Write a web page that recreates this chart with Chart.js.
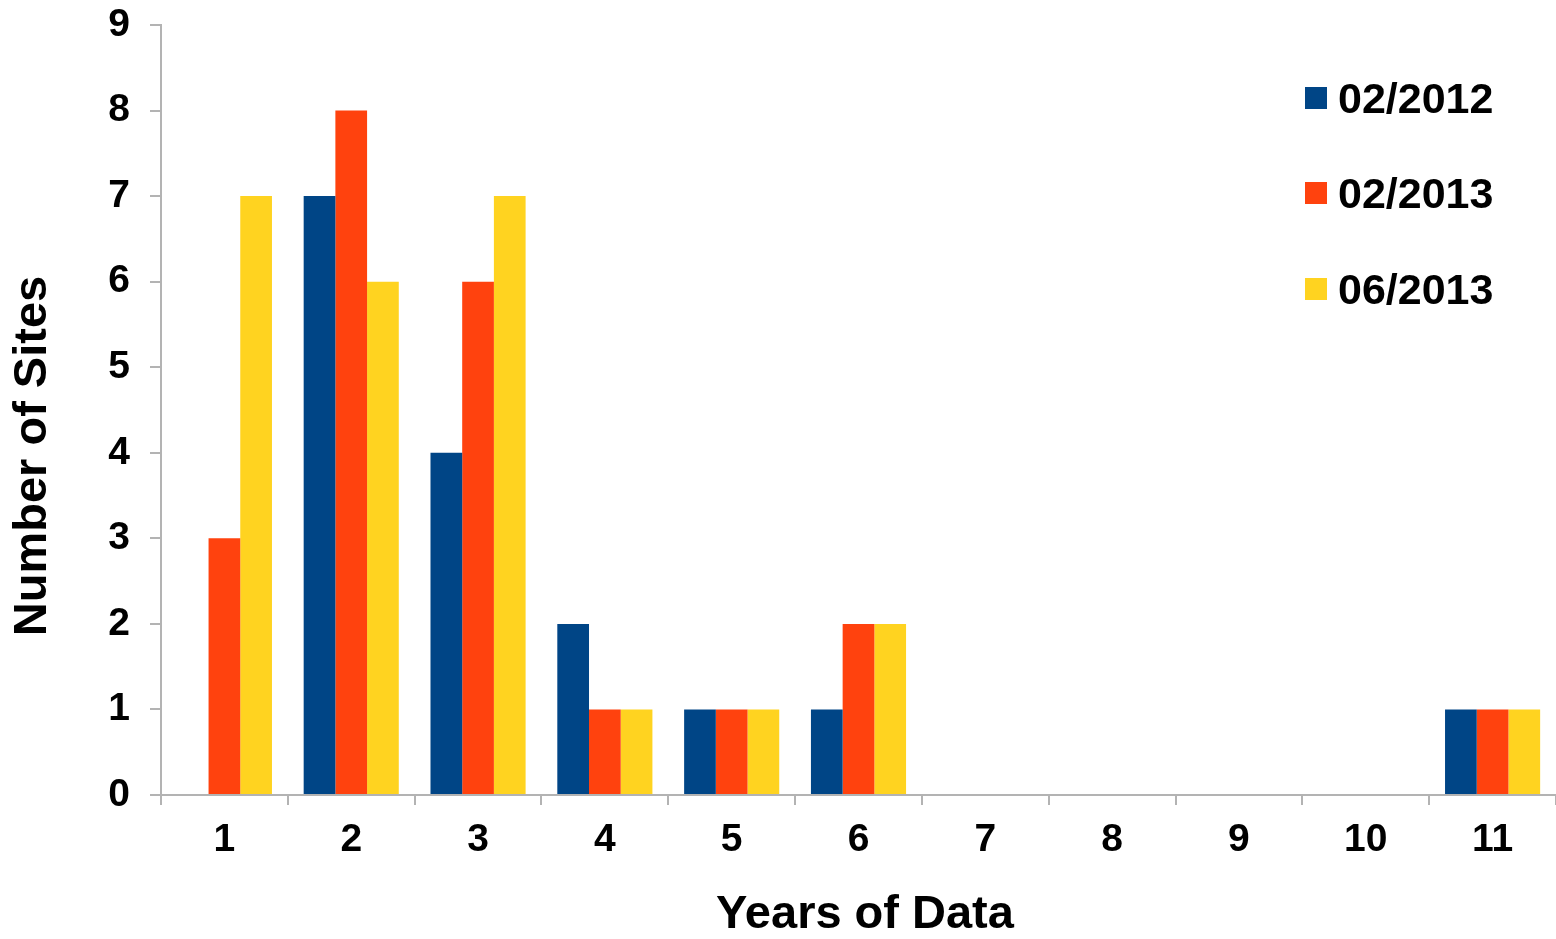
<!DOCTYPE html>
<html>
<head>
<meta charset="utf-8">
<script src="https://cdn.jsdelivr.net/npm/chart.js@4/dist/chart.umd.min.js"></script>
<style>
    body { margin: 0; background: #fff; }
    #wrap { position: relative; width: 1556px; height: 939px; }
    #legend { position: absolute; left: 1305px; top: 0; font-family: "Liberation Sans", Arial, sans-serif; font-weight: bold; font-size: 43px; color: #000; }
    .item { position: absolute; left: 0; display: flex; align-items: center; height: 50px; white-space: nowrap; }
    .box { width: 22px; height: 22px; margin-right: 11px; }
</style>
</head>
<body>
<div id="wrap">
    <canvas id="chart" width="1556" height="939"></canvas>
    <div id="legend"></div>
</div>
<script>
const years = ["1", "2", "3", "4", "5", "6", "7", "8", "9", "10", "11"];
const seriesNames = ["02/2012", "02/2013", "06/2013"];
const sites2012feb = [0, 7, 4, 2, 1, 1, 0, 0, 0, 0, 1];
const sites2013feb = [3, 8, 6, 1, 1, 2, 0, 0, 0, 0, 1];
const sites2013jun = [7, 6, 7, 1, 1, 2, 0, 0, 0, 0, 1];
const colors = ["#004586", "#ff420e", "#ffd320"];
const xTitle = "Years of Data";
const yTitle = "Number of Sites";

const axisGrey = "#b3b3b3";
const fontFamily = '"Liberation Sans", Arial, sans-serif';

const values = [sites2012feb, sites2013feb, sites2013jun];
const datasets = seriesNames.map((name, i) => ({
    label: name,
    data: values[i],
    backgroundColor: colors[i],
    borderWidth: 0,
    categoryPercentage: 0.75,
    barPercentage: 1.0
}));

// legend drawn as html, sitting inside the plot area on the right
const legend = document.getElementById("legend");
const legendCenters = [98, 193, 289];
seriesNames.forEach((name, i) => {
    const item = document.createElement("div");
    item.className = "item";
    item.style.top = (legendCenters[i] - 25) + "px";
    const box = document.createElement("div");
    box.className = "box";
    box.style.background = colors[i];
    const text = document.createElement("span");
    text.textContent = name;
    item.appendChild(box);
    item.appendChild(text);
    legend.appendChild(item);
});

// axis titles are not centred on the plot in the original, so place them by hand
const axisTitles = {
    id: "axisTitles",
    afterDraw(chart) {
        const c = chart.ctx;
        c.save();
        c.fillStyle = "#000";
        c.font = "bold 47px " + fontFamily;
        c.textAlign = "center";
        c.textBaseline = "middle";
        c.fillText(xTitle, 865, 915);
        c.translate(33, 456);
        c.rotate(-Math.PI / 2);
        c.fillText(yTitle, 0, 0);
        c.restore();
    }
};

const ctx = document.getElementById("chart").getContext("2d");
new Chart(ctx, {
    type: "bar",
    data: { labels: years, datasets: datasets },
    plugins: [axisTitles],
    options: {
        responsive: false,
        animation: false,
        devicePixelRatio: 1,
        layout: { padding: { top: 25, right: 0, left: 0, bottom: 0 } },
        plugins: {
            legend: { display: false },
            tooltip: { enabled: false }
        },
        scales: {
            x: {
                offset: true,
                grid: {
                    display: true,
                    drawOnChartArea: false,
                    drawTicks: true,
                    tickLength: 10,
                    offset: true,
                    color: axisGrey,
                    lineWidth: 2
                },
                border: { color: axisGrey, width: 2 },
                ticks: {
                    color: "#000",
                    padding: 12,
                    font: { family: fontFamily, size: 39, weight: "bold" }
                },
                afterFit: scale => { scale.height = 144; }
            },
            y: {
                min: 0,
                max: 9,
                grid: {
                    display: true,
                    drawOnChartArea: false,
                    drawTicks: true,
                    tickLength: 11,
                    color: axisGrey,
                    lineWidth: 2
                },
                border: { color: axisGrey, width: 2 },
                ticks: {
                    stepSize: 1,
                    color: "#000",
                    padding: 20,
                    font: { family: fontFamily, size: 39, weight: "bold", lineHeight: 0.25 }
                },
                afterFit: scale => { scale.width = 161; }
            }
        }
    }
});
</script>
</body>
</html>
